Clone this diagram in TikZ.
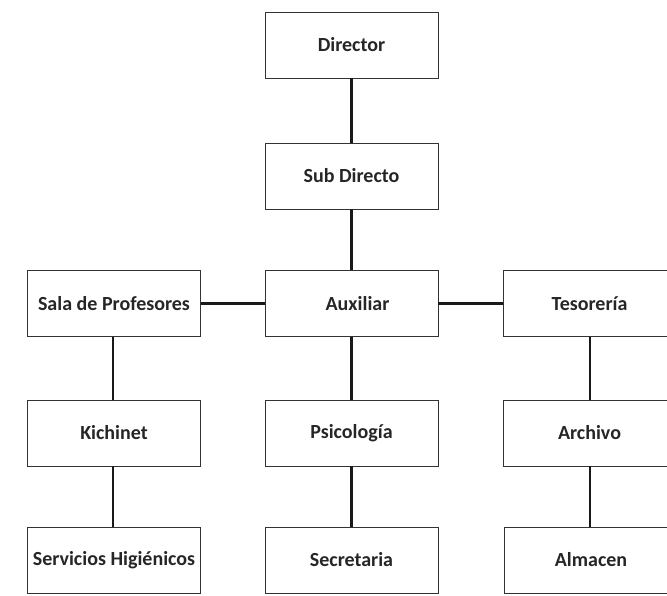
\documentclass[tikz,border=0pt]{standalone}
\usepackage{fontspec}
\setmainfont{Carlito}
\definecolor{txt}{HTML}{262626}
\definecolor{edge}{HTML}{333333}
\tikzset{
  orgbox/.style={draw=edge, line width=0.9pt, fill=white, minimum width=173pt, minimum height=66pt,
    inner sep=0pt, outer sep=0pt, text=txt, font=\fontsize{20}{24}\selectfont\bfseries},
  link/.style={draw=black!90, line width=2.6pt}
}
\begin{document}
\begin{tikzpicture}[x=1pt,y=-1pt]
\useasboundingbox (0,0) rectangle (667,596);
% connectors first (behind boxes)
\node[orgbox] (dir) at (351.5,45) {Director};
\node[orgbox] (sub) at (351.5,176) {Sub Directo};
\node[orgbox] (aux) at (351.5,303.5) {\hspace{12pt}Auxiliar};
\node[orgbox] (sala) at (114,303.5) {Sala de Profesores};
\node[orgbox] (tes) at (589.5,303.5) {\hspace{0pt}Tesorería};
\node[orgbox] (kit) at (114,433) {Kichinet};
\node[orgbox] (psi) at (351.5,433) {Psicología};
\node[orgbox] (arc) at (589.5,433) {Archivo};
\node[orgbox] (ser) at (114,560) {Servicios Higiénicos};
\node[orgbox] (sec) at (351.5,560) {Secretaria};
\node[orgbox] (alm) at (591,560) {Almacen};
\draw[link] (dir) -- (sub);
\draw[link] (sub) -- (aux);
\draw[link] (aux) -- (psi);
\draw[link] (psi) -- (sec);
\draw[link] (aux) -- (sala);
\draw[link] (aux) -- (tes);
\draw[link] ([xshift=-1pt]sala.south) -- ([xshift=-1pt]kit.north);
\draw[link] ([xshift=-1pt]kit.south) -- ([xshift=-1pt]ser.north);
\draw[link] ([xshift=0.5pt]tes.south) -- ([xshift=0.5pt]arc.north);
\draw[link] ([xshift=0.5pt]arc.south) -- ([xshift=-1pt]alm.north);
\end{tikzpicture}
\end{document}
